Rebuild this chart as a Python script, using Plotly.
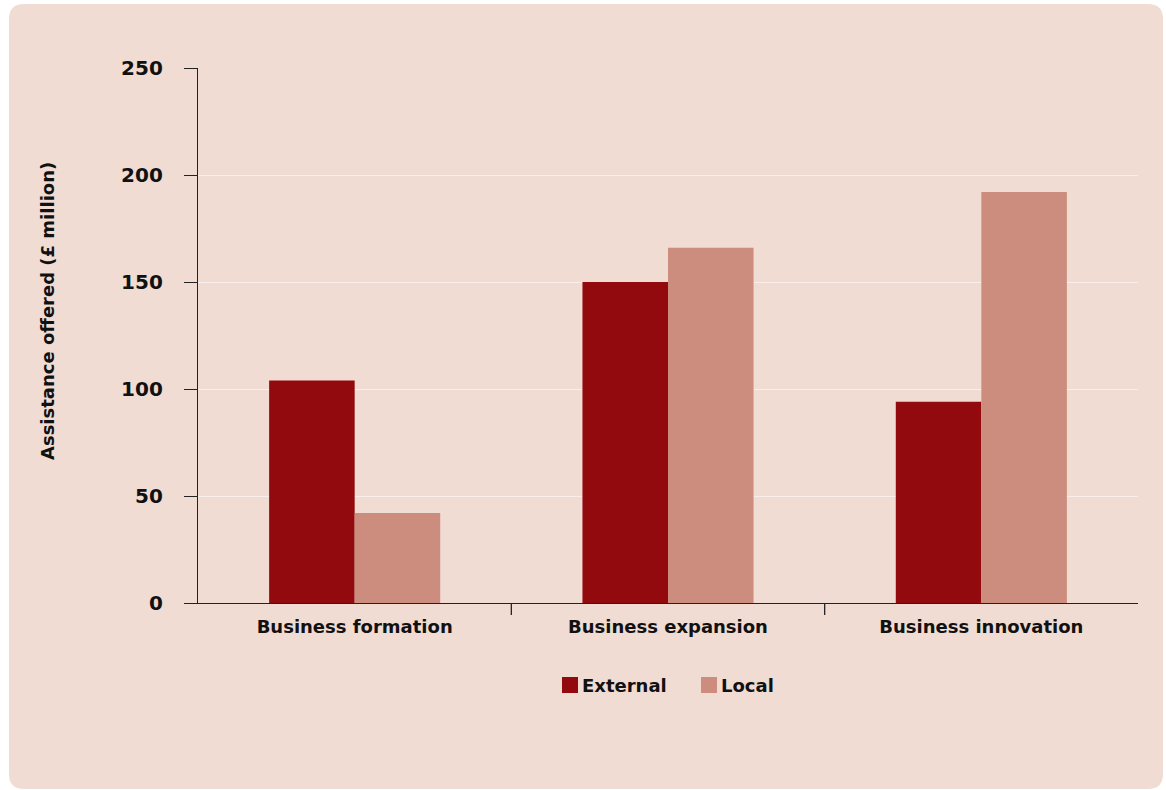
import plotly.graph_objects as go

categories = ["Business formation", "Business expansion", "Business innovation"]
external = [104, 150, 94]
local = [42, 166, 192]
y_ticks = [0, 50, 100, 150, 200, 250]
series_names = ["External", "Local"]
y_title = "Assistance offered (£ million)"

EXT_COLOR = "#930a0e"
LOC_COLOR = "#cc8c7e"
PANEL = "#f1dcd3"
FONT = "DejaVu Sans"
INK = "#111111"

fig = go.Figure()
fig.add_trace(go.Bar(x=categories, y=external, name=series_names[0],
                     marker=dict(color=EXT_COLOR, line=dict(width=0)), showlegend=False))
fig.add_trace(go.Bar(x=categories, y=local, name=series_names[1],
                     marker=dict(color=LOC_COLOR, line=dict(width=0)), showlegend=False))

# plot-area geometry in pixels
L, R, B, T = 198, 1138, 603, 68
W, H = R - L, B - T
def px(x):
    return (x - L) / W
def py(y):
    return (B - y) / H

# rounded panel behind the chart
x0, x1, y0, y1 = px(9), px(1163), py(789), py(4)
rx, ry = 15 / W, 15 / H
path = (f"M {x0+rx},{y1} L {x1-rx},{y1} Q {x1},{y1} {x1},{y1-ry} "
        f"L {x1},{y0+ry} Q {x1},{y0} {x1-rx},{y0} "
        f"L {x0+rx},{y0} Q {x0},{y0} {x0},{y0+ry} "
        f"L {x0},{y1-ry} Q {x0},{y1} {x0+rx},{y1} Z")
shapes = [dict(type="path", path=path, xref="paper", yref="paper",
               fillcolor=PANEL, line=dict(width=0), layer="below")]

# tick marks between categories
for b in [0.5, 1.5]:
    shapes.append(dict(type="line", xref="x", yref="paper", x0=b, x1=b,
                       y0=0, y1=-12 / H, line=dict(color="#222222", width=1.3)))

# key below the chart: swatch + label
annotations = []
for name, col, sx in [(series_names[0], EXT_COLOR, 562), (series_names[1], LOC_COLOR, 701)]:
    shapes.append(dict(type="rect", xref="paper", yref="paper",
                       x0=px(sx), x1=px(sx + 16), y0=py(693), y1=py(677),
                       fillcolor=col, line=dict(width=0)))
    annotations.append(dict(text=name, xref="paper", yref="paper",
                            x=px(sx + 18), y=py(685), xanchor="left", yanchor="middle",
                            showarrow=False,
                            font=dict(family=FONT, size=18, color=INK, weight="bold")))

# vertical axis title, set slightly above the plot's mid-height
annotations.append(dict(text=y_title, xref="paper", yref="paper",
                        x=px(47), y=py(311), xanchor="center", yanchor="middle",
                        textangle=-90, showarrow=False,
                        font=dict(family=FONT, size=18, color=INK, weight="bold")))

fig.update_layout(
    width=1166, height=790,
    margin=dict(l=L, r=1166 - R, t=T, b=790 - B),
    paper_bgcolor="white",
    plot_bgcolor="rgba(0,0,0,0)",
    barmode="group",
    bargap=0.454,
    bargroupgap=0,
    showlegend=False,
    shapes=shapes,
    annotations=annotations,
    font=dict(family=FONT, color=INK),
    xaxis=dict(
        showline=True, linecolor="#222222", linewidth=1.3,
        ticks="", showgrid=False,
        tickfont=dict(family=FONT, size=18, color=INK, weight="bold"),
        ticklabelstandoff=7,
    ),
    yaxis=dict(
        range=[0, 250], tickvals=y_ticks,
        showline=True, linecolor="#222222", linewidth=1.3,
        ticks="outside", ticklen=13, tickcolor="#222222", tickwidth=1.3,
        showgrid=True, gridcolor="#fbeeea", gridwidth=1,
        zeroline=False,
        tickfont=dict(family=FONT, size=20, color=INK, weight="bold"),
        ticklabelstandoff=17,
    ),
)

fig.write_html("out.html")
